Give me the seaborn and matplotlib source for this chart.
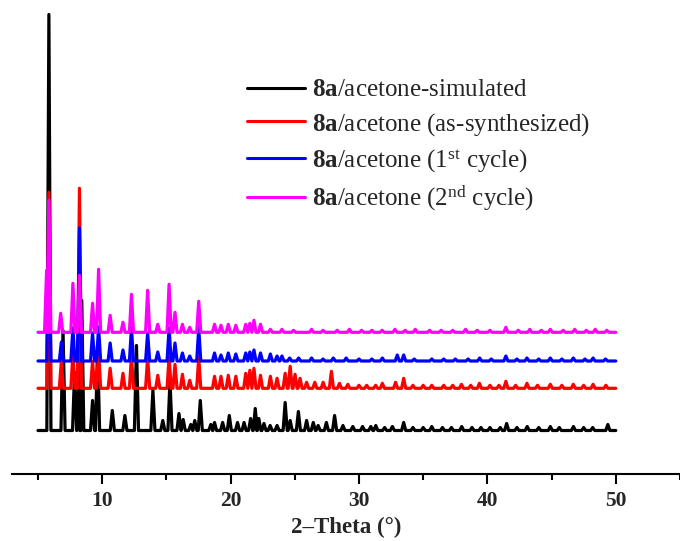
import numpy as np
import pandas as pd
import matplotlib
matplotlib.use("Agg")
import matplotlib.pyplot as plt
import seaborn as sns

# ---------------- data ----------------
# peak positions (2-theta, deg) and heights (arbitrary units) per pattern
sim_pos = [5.85, 6.95, 7.85, 8.18, 8.41, 9.25, 9.64, 10.79, 11.77, 12.67, 13.95, 14.72, 15.28,
           15.98, 16.31, 16.9, 17.21, 17.64, 18.46, 18.75, 19.38, 19.9, 20.54, 21.05, 21.56,
           21.92, 22.2, 22.6, 23.08, 23.62, 24.25, 24.64, 25.28, 25.92, 26.44, 26.82, 27.46,
           28.1, 28.75, 29.52, 30.28, 30.92, 31.31, 32.0, 32.6, 33.48, 34.2, 35.0, 35.67, 36.5,
           37.2, 38.0, 38.8, 39.5, 40.2, 41.0, 41.5, 42.3, 43.1, 44.0, 44.9, 45.6, 46.7, 47.5,
           48.2, 49.38]
sim_int = [416, 100, 58, 45, 130, 30, 85, 20, 15, 85, 40, 10, 50,
           17, 11, 6, 10, 30, 6, 8, 8, 15, 8, 8, 12,
           22, 12, 7, 5, 5, 28, 10, 19, 10, 8, 5, 8,
           15, 5, 4, 4, 4, 5, 3, 4, 8, 3, 3, 4, 3,
           3, 4, 3, 3, 3, 3, 7, 3, 4, 3, 4, 3, 4, 3,
           3, 6]

as_pos = [5.85, 6.82, 7.72, 8.23, 9.25, 9.72, 10.62, 11.62, 12.28, 13.54, 14.33, 15.21, 15.67,
          16.25, 16.82, 17.52, 18.75, 19.25, 19.82, 20.41, 21.18, 21.5, 21.82, 22.33, 23.1,
          23.62, 24.25, 24.64, 25.02, 25.41, 25.92, 26.56, 27.21, 27.85, 28.48, 29.13, 30.0,
          30.6, 31.3, 31.82, 32.85, 33.48, 34.2, 35.0, 35.67, 36.6, 37.3, 37.98, 38.7, 39.38,
          40.2, 40.9, 41.44, 42.2, 43.08, 43.9, 44.9, 45.8, 46.69, 47.5, 48.23, 49.23]
as_int = [196, 27, 35, 200, 27, 38, 20, 15, 32, 31, 13, 31, 24,
          14, 8, 31, 12, 12, 13, 12, 15, 18, 20, 13, 12,
          10, 15, 22, 14, 10, 6, 6, 6, 17, 5, 4, 3,
          3, 3, 5, 6, 10, 3, 3, 3, 3, 3, 4, 3, 5,
          3, 3, 7, 3, 5, 3, 4, 3, 4, 3, 4, 3]

c1_pos = [5.85, 6.82, 7.72, 8.23, 9.25, 9.72, 10.62, 11.62, 12.28, 13.54, 14.33, 15.21, 15.67,
          16.25, 16.82, 17.52, 18.75, 19.25, 19.82, 20.41, 21.18, 21.5, 21.82, 22.33, 23.1,
          23.62, 24.0, 24.6, 25.3, 26.31, 27.2, 28.0, 29.0, 30.0, 31.0, 31.82, 32.98, 33.48,
          34.3, 35.67, 36.6, 37.5, 38.5, 39.4, 40.3, 41.44, 42.3, 43.08, 44.0, 44.9, 45.8,
          46.69, 47.6, 48.23, 49.2]
c1_int = [130, 19, 33, 133, 28, 34, 18, 11, 33, 28, 9, 33, 18,
          8, 5, 33, 8, 6, 8, 7, 8, 9, 11, 8, 7,
          5, 5, 3, 3, 3, 2, 3, 3, 2, 2, 3, 6, 6,
          2, 2, 2, 2, 2, 3, 2, 5, 2, 3, 2, 3, 2,
          3, 2, 3, 2]

c2_pos = [5.67, 5.85, 6.77, 7.72, 8.23, 9.25, 9.72, 10.62, 11.62, 12.28, 13.54, 14.33, 15.21,
          15.67, 16.25, 16.82, 17.52, 18.75, 19.25, 19.82, 20.41, 21.18, 21.5, 21.82, 22.33,
          23.1, 24.0, 24.9, 26.31, 27.2, 28.3, 29.25, 30.2, 31.0, 31.8, 32.8, 33.6, 34.38,
          35.5, 36.4, 37.3, 38.3, 39.2, 40.2, 41.44, 42.4, 43.3, 44.2, 44.9, 45.9, 46.8,
          47.7, 48.4, 49.3]
c2_int = [62, 132, 19, 49, 57, 29, 63, 17, 10, 38, 42, 8, 48,
          20, 8, 5, 31, 8, 7, 8, 7, 8, 9, 12, 8,
          3, 3, 2, 3, 2, 2, 3, 2, 2, 2, 3, 2, 3,
          2, 2, 2, 3, 2, 2, 5, 2, 3, 2, 3, 2, 3,
          2, 3, 2]

labels = [r"$\mathbf{8a}$/acetone-simulated",
          r"$\mathbf{8a}$/acetone (as-synthesized)",
          r"$\mathbf{8a}$/acetone (1${}^{\mathrm{st}}$ cycle)",
          r"$\mathbf{8a}$/acetone (2${}^{\mathrm{nd}}$ cycle)"]
offsets = [43.5, 85.7, 113.0, 141.7]
colors = ["#000000", "#ff0000", "#0000ff", "#ff00ff"]
x_start, x_end = 5.0, 50.0
xticks = [10, 20, 30, 40, 50]

# ---------------- style ----------------
sns.set_style("white")
plt.rcParams["font.family"] = ["Liberation Serif", "DejaVu Serif"]
plt.rcParams["mathtext.fontset"] = "custom"
plt.rcParams["mathtext.rm"] = "Liberation Serif"
plt.rcParams["mathtext.it"] = "Liberation Serif:italic"
plt.rcParams["mathtext.bf"] = "Liberation Serif:bold"

HW = 0.16  # half base width of drawn peaks (style)


def profile(pos, inten):
    xs, ys = [x_start], [0.0]
    for p, h in zip(pos, inten):
        xs += [p - HW, p, p + HW]
        ys += [0.0, float(h), 0.0]
    xs.append(x_end)
    ys.append(0.0)
    return xs, ys


fig = plt.figure(figsize=(6.8, 5.41), dpi=100)
ax = fig.add_axes([12.3 / 680, 1 - 474 / 541, 1 - 12.3 / 680, 474 / 541])

series = [(sim_pos, sim_int), (as_pos, as_int), (c1_pos, c1_int), (c2_pos, c2_int)]
for (pos, inten), off, col, lab in zip(series, offsets, colors, labels):
    xs, ys = profile(pos, inten)
    df = pd.DataFrame({"x": xs, "y": np.array(ys) + off})
    sns.lineplot(data=df, x="x", y="y", ax=ax, color=col, lw=2.3, label=lab,
                 estimator=None, sort=False)

ax.set_xlim(3.0, 54.4)
ax.set_ylim(0, 474)
for s in ["top", "left", "right"]:
    ax.spines[s].set_visible(False)
ax.spines["bottom"].set_linewidth(1.5)
ax.spines["bottom"].set_color("black")
ax.set_yticks([])
ax.set_ylabel("")
ax.set_xticks(xticks)
ax.set_xticks([5, 15, 25, 35, 45, 55], minor=True)
ax.tick_params(axis="x", which="major", direction="out", length=7.5, width=1.5,
               bottom=True, pad=5, labelsize=15.5, color="black")
ax.tick_params(axis="x", which="minor", direction="out", length=4.5, width=1.5,
               bottom=True, color="black")
for t in ax.get_xticklabels():
    t.set_fontweight("bold")
ax.set_xlabel("2\u2013Theta (\u00b0)", fontsize=16.5, fontweight="bold", labelpad=4)

leg = ax.legend(loc="upper left", bbox_to_anchor=(246.7 / 680, 1 - 79 / 541),
                bbox_transform=fig.transFigure, frameon=False, fontsize=18,
                handlelength=2.33, handletextpad=0.27, labelspacing=0.37,
                borderpad=0, borderaxespad=0)
for ln in leg.get_lines():
    ln.set_linewidth(2.2)

fig.savefig("out.png", dpi=100)
